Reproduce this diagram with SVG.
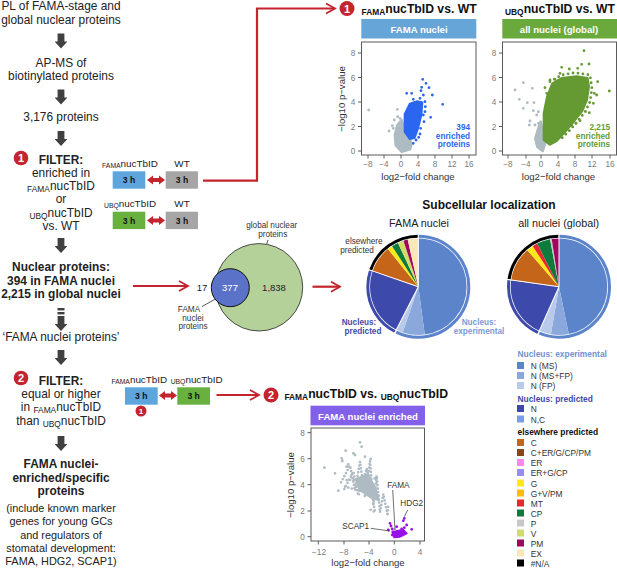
<svg xmlns="http://www.w3.org/2000/svg" xmlns:xlink="http://www.w3.org/1999/xlink" width="617" height="569" viewBox="0 0 617 569">
<style>
text{font-family:"Liberation Sans",Arial,sans-serif;fill:#222}
.m{font-size:11.9px;text-anchor:middle}
.n{font-size:10.9px;text-anchor:middle}
.b{font-weight:bold}
.s{font-size:8.4px}
.l{font-size:9.9px;text-anchor:middle}
.h{font-size:8.6px;font-weight:bold;text-anchor:middle;fill:#111}
.rl{fill:none;stroke:#c3242d;stroke-width:2.2}
.hd{fill:#fff;font-size:9.6px;font-weight:bold;text-anchor:middle}
.tt{font-size:12.2px;font-weight:bold;fill:#111}
.fr{fill:#fff;stroke:#5a5a5a;stroke-width:1}
.tk{stroke:#5a5a5a;stroke-width:1;fill:none}
.tl{font-size:8.2px;fill:#7a7a7a;text-anchor:middle}
.ax{font-size:9.6px;fill:#333;text-anchor:middle}
.bt{fill:#fff;font-weight:bold;text-anchor:middle}
.sl{fill:none;stroke-width:48.3}
.rg{fill:none;stroke-width:3}
.sp{stroke:#fff;stroke-width:1;fill:none}
.vn{font-size:8.2px;fill:#333;text-anchor:middle}
.lg{font-size:8.4px;fill:#333}
.lh{font-size:8.4px;font-weight:bold}
.dg{stroke:#aebbc3;stroke-width:8.5;stroke-linecap:round;fill:none}
.dc{stroke-width:8.5;stroke-linecap:round;fill:none}
.ct{font-size:8.2px;font-weight:bold;text-anchor:end}
</style>
<defs>
<path id="ga" d="M-3.4 0H3.4V8H6V8.5L0 15L-6 8.5V8H-3.4Z" fill="#404040"/>
<marker id="oa" markerUnits="userSpaceOnUse" markerWidth="14" markerHeight="14" refX="10" refY="6" orient="auto"><path d="M1 1L10 6L1 11" fill="none" stroke="#c3242d" stroke-width="1.8"/></marker>
<path id="da" d="M-9 0L-3 -4.5V-2H3V-4.500L9 0L3 4.500V2H-3V4.500Z" fill="#c3242d"/>
</defs>

<g id="flow-text">
<text class="m" x="61" y="10">PL of FAMA-stage and</text>
<text class="m" x="61" y="23.500">global nuclear proteins</text>
<text class="m" x="61" y="66.500">AP-MS of</text>
<text class="m" x="61" y="80">biotinylated proteins</text>
<text class="m" x="61" y="121">3,176 proteins</text>
<text class="m b" x="61" y="163.500">FILTER:</text>
<text class="m" x="61" y="177">enriched in</text>
<text class="m" x="61" y="190"><tspan class="s" dy="2">FAMA</tspan><tspan dy="-2">nucTbID</tspan></text>
<text class="m" x="61" y="203">or</text>
<text class="m" x="61" y="216.500"><tspan class="s" dy="2">UBQ</tspan><tspan dy="-2">nucTbID</tspan></text>
<text class="m" x="61" y="230">vs. WT</text>
<text class="m b" x="61" y="271">Nuclear proteins:</text>
<text class="m b" x="61" y="284.500">394 in FAMA nuclei</text>
<text class="m b" x="61" y="298">2,215 in global nuclei</text>
<text class="m" x="61" y="341">‘FAMA nuclei  proteins’</text>
<text class="m b" x="61" y="384.500">FILTER:</text>
<text class="m" x="61" y="398">equal or higher</text>
<text class="m" x="61" y="411">in <tspan class="s" dy="2">FAMA</tspan><tspan dy="-2">nucTbID</tspan></text>
<text class="m" x="61" y="424.500">than <tspan class="s" dy="2">UBQ</tspan><tspan dy="-2">nucTbID</tspan></text>
<text class="m b" x="61" y="468">FAMA nuclei-</text>
<text class="m b" x="61" y="481.500">enriched/specific</text>
<text class="m b" x="61" y="495">proteins</text>
<text class="n" x="61" y="511.500">(include known marker</text>
<text class="n" x="61" y="525">genes for young GCs</text>
<text class="n" x="61" y="538.500">and regulators of</text>
<text class="n" x="61" y="552">stomatal development:</text>
<text class="n" x="61" y="565">FAMA, HDG2, SCAP1)</text>
</g>

<g id="flow-arrows">
<use xlink:href="#ga" href="#ga" x="61" y="33.500"/>
<use xlink:href="#ga" href="#ga" x="61" y="89.500"/>
<use xlink:href="#ga" href="#ga" x="61" y="131"/>
<use xlink:href="#ga" href="#ga" x="61" y="238"/>
<rect x="57.500" y="308" width="7" height="2.400" fill="#404040"/>
<rect x="57.500" y="312" width="7" height="2.400" fill="#404040"/>
<use xlink:href="#ga" href="#ga" x="61" y="316"/>
<use xlink:href="#ga" href="#ga" x="61" y="350"/>
<use xlink:href="#ga" href="#ga" x="61" y="436"/>
</g>

<g id="connectors">
<path class="rl" d="M203 180.700H257V8.500H335" marker-end="url(#oa)"/>
<path class="rl" d="M133 286H188" marker-end="url(#oa)"/>
<path class="rl" d="M312.500 286.700H340" marker-end="url(#oa)"/>
<path class="rl" d="M216.500 395H259" marker-end="url(#oa)"/>
<use xlink:href="#da" href="#da" x="156" y="180"/>
<use xlink:href="#da" href="#da" x="156" y="220.500"/>
<use xlink:href="#da" href="#da" x="168" y="395.500"/>
</g>

<g id="badges">
<circle cx="21" cy="158" r="7.300" fill="#c3242d"/><text class="bt" x="21" y="162" style="font-size:11px">1</text>
<circle cx="21" cy="378" r="7.300" fill="#c3242d"/><text class="bt" x="21" y="382" style="font-size:11px">2</text>
<circle cx="347" cy="8.500" r="7.500" fill="#c3242d"/><text class="bt" x="347" y="12.500" style="font-size:11px">1</text>
<circle cx="271" cy="395" r="7.500" fill="#c3242d"/><text class="bt" x="271" y="399" style="font-size:11px">2</text>
<circle cx="141" cy="411" r="5.500" fill="#c3242d"/><text class="bt" x="141" y="414" style="font-size:8px">1</text>
</g>

<g id="sample-boxes">
<text class="l" x="130" y="167"><tspan style="font-size:6.800px" dy="1">FAMA</tspan><tspan dy="-1">nucTbID</tspan></text>
<text class="l" x="182" y="167">WT</text>
<rect x="112.700" y="171.300" width="32.600" height="17.400" fill="#5da5dc"/><text class="h" x="129" y="183.300">3 h</text>
<rect x="165.700" y="171.300" width="32.300" height="17.400" fill="#a6a6a6"/><text class="h" x="182" y="183.300">3 h</text>
<text class="l" x="130" y="207"><tspan style="font-size:6.800px" dy="1">UBQ</tspan><tspan dy="-1">nucTbID</tspan></text>
<text class="l" x="182" y="207">WT</text>
<rect x="112.700" y="211.700" width="32.600" height="17.400" fill="#69b13f"/><text class="h" x="129" y="223.600">3 h</text>
<rect x="165.700" y="211.700" width="32.300" height="17.400" fill="#a6a6a6"/><text class="h" x="182" y="223.600">3 h</text>
<text class="l" x="139.300" y="383"><tspan style="font-size:6.800px" dy="1">FAMA</tspan><tspan dy="-1">nucTbID</tspan></text>
<text class="l" x="196.700" y="383"><tspan style="font-size:6.800px" dy="1">UBQ</tspan><tspan dy="-1">nucTbID</tspan></text>
<rect x="125" y="387.300" width="32.700" height="17.400" fill="#5da5dc"/><text class="h" x="141.300" y="399.200">3 h</text>
<rect x="177.300" y="387.300" width="32.700" height="17.400" fill="#69b13f"/><text class="h" x="193.600" y="399.200">3 h</text>
</g>

<g id="venn">
<circle cx="259" cy="287.300" r="43.700" fill="#b5d19a" stroke="#222" stroke-width="0.8"/>
<circle cx="230.300" cy="287.700" r="19" fill="#5b72c9" stroke="#111" stroke-width="1"/>
<text class="l" x="202" y="290.500" style="font-size:9.500px">17</text>
<text class="l" x="230" y="290.500" style="font-size:9.500px;fill:#fff">377</text>
<text class="l" x="274" y="290.500" style="font-size:9.500px">1,838</text>
<text class="vn" x="271.700" y="227.700">global nuclear</text>
<text class="vn" x="272.700" y="236.700">proteins</text>
<path class="tk" d="M268 240L266.700 244"/>
<text class="vn" x="189" y="312">FAMA</text>
<text class="vn" x="193" y="320.700">nuclei</text>
<text class="vn" x="193" y="329.300">proteins</text>
<path class="tk" d="M202 306.500L215 299.300"/>
</g>

<g id="volcano-fama">
<text class="tt" x="361.500" y="12.500"><tspan style="font-size:8.400px" dy="2">FAMA</tspan><tspan dy="-2">nucTbID vs. WT</tspan></text>
<rect x="361.300" y="19" width="115" height="19.500" fill="#66a5d8"/>
<text class="hd" x="419" y="33">FAMA nuclei</text>
<rect class="fr" x="361.500" y="42" width="114.500" height="113"/>
<g transform="translate(360 60) scale(.33333)">
<path d="M125 180L135 215L155 250L150 268L125 275L107 255L105 225L112 195Z" fill="#aebbc3" stroke="#aebbc3" stroke-width="8" stroke-linejoin="round"/>
<path class="dg" d="M26 150h0M112 148h0M113 170h0M103 180h0M97 197h0M87 213h0M120 175h0M100 205h0"/>
<path d="M135 162L150 132L170 125L186 128L183 165L173 205L163 233L150 236L135 215Z" fill="#2b66f0" stroke="#2b66f0" stroke-width="8" stroke-linejoin="round"/>
<path class="dc" stroke="#2b66f0" d="M188 58h0M198 70h0M185 82h0M207 83h0M183 92h0M140 100h0M155 100h0M217 105h0M190 105h0M180 115h0M248 133h0M212 172h0M195 125h0M195 155h0M192 185h0M182 205h0M176 232h0M160 250h0M168 240h0M190 165h0M160 118h0M196 140h0M180 222h0"/>
</g>
<path class="tk" d="M358 53H361.500M358 77.500H361.500M358 102H361.500M358 126.500H361.500M358 151H361.500M368 155V158.500M384 155V158.500M401 155V158.500M418 155V158.500M435 155V158.500M452 155V158.500M469 155V158.500"/>
<text class="tl" x="353" y="56">8</text><text class="tl" x="353" y="80.500">6</text><text class="tl" x="353" y="105">4</text><text class="tl" x="353" y="129.500">2</text><text class="tl" x="353" y="154">0</text>
<text class="tl" x="368" y="167">−8</text><text class="tl" x="384" y="167">−4</text><text class="tl" x="401" y="167">0</text><text class="tl" x="418" y="167">4</text><text class="tl" x="435" y="167">8</text><text class="tl" x="452" y="167">12</text><text class="tl" x="469" y="167">16</text>
<text class="ax" x="418" y="179.500">log2−fold change</text>
<text class="ax" transform="translate(345 99) rotate(-90)">−log10 p−value</text>
<text class="ct" x="470" y="130" style="fill:#2b66f0">394</text>
<text class="ct" x="470" y="138.500" style="fill:#2b66f0">enriched</text>
<text class="ct" x="470" y="147" style="fill:#2b66f0">proteins</text>
</g>

<g id="volcano-global">
<text class="tt" x="505" y="12.500"><tspan style="font-size:8.400px" dy="2">UBQ</tspan><tspan dy="-2">nucTbID vs. WT</tspan></text>
<rect x="502.300" y="19" width="114.700" height="19.500" fill="#6aaa3c"/>
<text class="hd" x="559" y="33">all nuclei (global)</text>
<rect class="fr" x="502.500" y="42" width="114" height="113"/>
<g transform="translate(500 40) scale(.33333)">
<path d="M122 245L135 310L128 333L112 320L106 295L115 265Z" fill="#aebbc3" stroke="#aebbc3" stroke-width="8" stroke-linejoin="round"/>
<path class="dg" d="M45 150h0M70 128h0M97 145h0M58 178h0M82 188h0M102 188h0M70 205h0M100 212h0M115 215h0M110 225h0M90 243h0M88 255h0M105 255h0M115 250h0"/>
<path d="M132 300L132 220L142 170L157 132L185 115L230 110L262 115L266 140L260 180L246 213L222 243L198 272L170 302L150 313Z" fill="#659a33" stroke="#659a33" stroke-width="8" stroke-linejoin="round"/>
<path d="M150 125L185 105L225 98L270 105L276 145L270 185L256 215L232 245L208 272L180 300" fill="none" stroke="#659a33" stroke-width="8.500" stroke-dasharray="0 15" stroke-linecap="round"/>
<path class="dc" stroke="#659a33" d="M252 32h0M185 82h0M245 73h0M267 72h0M233 85h0M208 87h0M150 120h0M165 118h0M293 125h0M328 153h0M283 160h0M290 165h0M280 190h0M268 218h0M240 242h0M215 255h0M228 250h0M135 143h0M140 160h0M180 100h0"/>
</g>
<path class="tk" d="M499 53H502.500M499 77.500H502.500M499 102H502.500M499 126.500H502.500M499 151H502.500M508 155V158.500M526 155V158.500M541 155V158.500M558 155V158.500M575 155V158.500M592 155V158.500M610 155V158.500"/>
<text class="tl" x="494" y="56">8</text><text class="tl" x="494" y="80.500">6</text><text class="tl" x="494" y="105">4</text><text class="tl" x="494" y="129.500">2</text><text class="tl" x="494" y="154">0</text>
<text class="tl" x="508" y="167">−8</text><text class="tl" x="526" y="167">−4</text><text class="tl" x="541" y="167">0</text><text class="tl" x="558" y="167">4</text><text class="tl" x="575" y="167">8</text><text class="tl" x="592" y="167">12</text><text class="tl" x="610" y="167">16</text>
<text class="ax" x="558.500" y="179.500">log2−fold change</text>
<text class="ct" x="610" y="130" style="fill:#659a33">2,215</text>
<text class="ct" x="610" y="138.500" style="fill:#659a33">enriched</text>
<text class="ct" x="610" y="147" style="fill:#659a33">proteins</text>
</g>

<g id="pies">
<text x="489" y="209" text-anchor="middle" font-size="12" font-weight="bold" style="fill:#111">Subcellular localization</text>
<text class="l" x="419" y="227" style="font-size:10.800px">FAMA nuclei</text>
<text class="l" x="558.700" y="227" style="font-size:10.800px">all nuclei (global)</text>
<g id="pie-fama" transform="translate(418.300 286.700)">
<g transform="rotate(-90)">
<circle class="sl" r="24.150" pathLength="360" stroke="#5b84cb" stroke-dasharray="172 360"/>
<circle class="sl" r="24.150" pathLength="360" stroke="#8aa8dc" stroke-dasharray="27 360" stroke-dashoffset="-172"/>
<circle class="sl" r="24.150" pathLength="360" stroke="#b9c9e9" stroke-dasharray="8 360" stroke-dashoffset="-199"/>
<circle class="sl" r="24.150" pathLength="360" stroke="#3e4aab" stroke-dasharray="82 360" stroke-dashoffset="-207"/>
<circle class="sl" r="24.150" pathLength="360" stroke="#c4651a" stroke-dasharray="32 360" stroke-dashoffset="-289"/>
<circle class="sl" r="24.150" pathLength="360" stroke="#ffe81a" stroke-dasharray="6 360" stroke-dashoffset="-321"/>
<circle class="sl" r="24.150" pathLength="360" stroke="#0e7a3c" stroke-dasharray="8 360" stroke-dashoffset="-327"/>
<circle class="sl" r="24.150" pathLength="360" stroke="#d2dc6a" stroke-dasharray="7 360" stroke-dashoffset="-335"/>
<circle class="sl" r="24.150" pathLength="360" stroke="#a0085f" stroke-dasharray="5 360" stroke-dashoffset="-342"/>
<circle class="sl" r="24.150" pathLength="360" stroke="#fbe6b8" stroke-dasharray="13 360" stroke-dashoffset="-347"/>
<circle class="rg" r="50.500" pathLength="360" stroke="#5b84cb" stroke-dasharray="206 360"/>
<circle class="rg" r="50.500" pathLength="360" stroke="#3e4aab" stroke-dasharray="81 360" stroke-dashoffset="-207.500"/>
<circle class="rg" r="50.500" pathLength="360" stroke="#000" stroke-dasharray="70 360" stroke-dashoffset="-289.500"/>
</g>
<path class="sp" d="M0 0V-52"/><path class="sp" d="M0 0V-54" transform="rotate(207)"/><path class="sp" d="M0 0V-54" transform="rotate(289)"/>
</g>
<g id="pie-global" transform="translate(559 286.700)">
<g transform="rotate(-90)">
<circle class="sl" r="24.150" pathLength="360" stroke="#5b84cb" stroke-dasharray="168 360"/>
<circle class="sl" r="24.150" pathLength="360" stroke="#8aa8dc" stroke-dasharray="22 360" stroke-dashoffset="-168"/>
<circle class="sl" r="24.150" pathLength="360" stroke="#b9c9e9" stroke-dasharray="14 360" stroke-dashoffset="-190"/>
<circle class="sl" r="24.150" pathLength="360" stroke="#3e4aab" stroke-dasharray="74 360" stroke-dashoffset="-204"/>
<circle class="sl" r="24.150" pathLength="360" stroke="#c4651a" stroke-dasharray="41 360" stroke-dashoffset="-278"/>
<circle class="sl" r="24.150" pathLength="360" stroke="#ffe81a" stroke-dasharray="8 360" stroke-dashoffset="-319"/>
<circle class="sl" r="24.150" pathLength="360" stroke="#e82830" stroke-dasharray="6 360" stroke-dashoffset="-327"/>
<circle class="sl" r="24.150" pathLength="360" stroke="#0e7a3c" stroke-dasharray="16 360" stroke-dashoffset="-333"/>
<circle class="sl" r="24.150" pathLength="360" stroke="#c8c8c8" stroke-dasharray="2 360" stroke-dashoffset="-349"/>
<circle class="sl" r="24.150" pathLength="360" stroke="#a0085f" stroke-dasharray="9 360" stroke-dashoffset="-351"/>
<circle class="rg" r="50.500" pathLength="360" stroke="#5b84cb" stroke-dasharray="203 360"/>
<circle class="rg" r="50.500" pathLength="360" stroke="#3e4aab" stroke-dasharray="73 360" stroke-dashoffset="-204.500"/>
<circle class="rg" r="50.500" pathLength="360" stroke="#000" stroke-dasharray="81 360" stroke-dashoffset="-278.500"/>
</g>
<path class="sp" d="M0 0V-52"/><path class="sp" d="M0 0V-54" transform="rotate(204)"/><path class="sp" d="M0 0V-54" transform="rotate(278)"/>
</g>
<text class="vn" x="364" y="244">elsewhere</text>
<text class="vn" x="357" y="253">predicted</text>
<text class="vn b" x="359" y="325" style="fill:#3e4aab">Nucleus:</text>
<text class="vn b" x="363" y="334" style="fill:#3e4aab">predicted</text>
<text class="vn b" x="479" y="325" style="fill:#7a9bd8">Nucleus:</text>
<text class="vn b" x="479" y="334" style="fill:#7a9bd8">experimental</text>
</g>

<g id="volcano-enriched">
<text class="tt" x="448" y="398" style="text-anchor:end"><tspan style="font-size:8.400px" dy="2">FAMA</tspan><tspan dy="-2">nucTbID vs. </tspan><tspan style="font-size:8.400px" dy="2">UBQ</tspan><tspan dy="-2">nucTbID</tspan></text>
<rect x="310.500" y="405.700" width="114.500" height="19.600" fill="#8360ea"/>
<text class="hd" x="368" y="419.500">FAMA nuclei enriched</text>
<rect class="fr" x="311" y="428" width="113.500" height="113"/>
<g transform="translate(305 425) scale(.33333)">
<path d="M150 160L190 145L215 190L225 230L195 220L160 195Z" fill="#aebbc3"/>
<path d="M108 172L135 122L150 197L165 110L180 217L195 108L205 242L215 152L225 262L235 207L248 272L250 235M118 192L145 140L160 212L185 130L200 202L210 262L190 250M125 165L215 160M120 185L230 215" fill="none" stroke="#aebbc3" stroke-width="8" stroke-dasharray="0 10.500" stroke-linecap="round"/>
<path class="dg" d="M165 52h0M170 65h0M122 77h0M145 85h0M150 90h0M110 100h0M112 108h0M58 128h0M90 145h0M100 197h0M180 95h0M197 102h0M130 118h0M125 125h0"/>
<path d="M262 320L295 315L305 325L285 335L268 337Z" fill="#9a10e8" stroke="#9a10e8" stroke-width="6" stroke-linejoin="round"/>
<path class="dc" stroke="#9a10e8" d="M255 295h0M258 303h0M262 312h0M298 280h0M295 287h0M305 300h0M298 308h0M320 313h0M275 305h0M290 312h0M250 315h0M262 330h0"/>
<circle cx="270" cy="313" r="4" fill="#c9bfe0"/>
</g>
<path class="tk" d="M307.500 432.700H311M307.500 458.700H311M307.500 484.700H311M307.500 511H311M307.500 536.700H311M318.300 541V544.500M344 541V544.500M369 541V544.500M394.300 541V544.500M420 541V544.500"/>
<text class="tl" x="302.500" y="436">8</text><text class="tl" x="302.500" y="462">6</text><text class="tl" x="302.500" y="488">4</text><text class="tl" x="302.500" y="514">2</text><text class="tl" x="302.500" y="540">0</text>
<text class="tl" x="319" y="555">−12</text><text class="tl" x="344" y="555">−8</text><text class="tl" x="369" y="555">−4</text><text class="tl" x="394.300" y="555">0</text><text class="tl" x="420" y="555">4</text>
<text class="ax" x="368" y="566">log2−fold change</text>
<text class="ax" transform="translate(294 485) rotate(-90)">−log10 p−value</text>
<text class="vn" x="398.300" y="487.700">FAMA</text>
<text class="vn" x="411.700" y="506">HDG2</text>
<text class="vn" x="355.700" y="529.300">SCAP1</text>
<path d="M392.700 490L395 530M407.700 510L404.300 516.700M370.700 528.300L390 531" fill="none" stroke="#333" stroke-width="0.7"/>
</g>

<g id="legend">
<text class="lh" x="517.500" y="356.500" style="fill:#6f92d2">Nucleus: experimental</text>
<rect x="517" y="362" width="7" height="7" fill="#5b84cb"/><text class="lg" x="530.700" y="369">N (MS)</text>
<rect x="517" y="372" width="7" height="7" fill="#8aa8dc"/><text class="lg" x="530.700" y="379">N (MS+FP)</text>
<rect x="517" y="382" width="7" height="7" fill="#b9c9e9"/><text class="lg" x="530.700" y="389">N (FP)</text>
<text class="lh" x="517.500" y="401.500" style="fill:#3e4aab">Nucleus: predicted</text>
<rect x="517" y="405" width="7" height="7" fill="#3e4aab"/><text class="lg" x="530.700" y="412">N</text>
<rect x="517" y="415.500" width="7" height="7" fill="#7b9bef"/><text class="lg" x="530.700" y="422.500">N,C</text>
<text class="lh" x="517.500" y="435" style="fill:#111">elsewhere predicted</text>
<rect x="517" y="439" width="7" height="7" fill="#c4651a"/><text class="lg" x="530.700" y="446">C</text>
<rect x="517" y="449" width="7" height="7" fill="#8b4513"/><text class="lg" x="530.700" y="456">C+ER/G/CP/PM</text>
<rect x="517" y="459" width="7" height="7" fill="#ff88ee"/><text class="lg" x="530.700" y="466">ER</text>
<rect x="517" y="469" width="7" height="7" fill="#9a8cf5"/><text class="lg" x="530.700" y="476">ER+G/CP</text>
<rect x="517" y="479.500" width="7" height="7" fill="#ffe81a"/><text class="lg" x="530.700" y="486.500">G</text>
<rect x="517" y="489.500" width="7" height="7" fill="#ffbb10"/><text class="lg" x="530.700" y="496.500">G+V/PM</text>
<rect x="517" y="499.500" width="7" height="7" fill="#e82830"/><text class="lg" x="530.700" y="506.500">MT</text>
<rect x="517" y="509.500" width="7" height="7" fill="#0e7a3c"/><text class="lg" x="530.700" y="516.500">CP</text>
<rect x="517" y="519.500" width="7" height="7" fill="#c8c8c8"/><text class="lg" x="530.700" y="526.500">P</text>
<rect x="517" y="529.500" width="7" height="7" fill="#d2dc6a"/><text class="lg" x="530.700" y="536.500">V</text>
<rect x="517" y="539.500" width="7" height="7" fill="#a0085f"/><text class="lg" x="530.700" y="546.500">PM</text>
<rect x="517" y="549.500" width="7" height="7" fill="#fbe6b8"/><text class="lg" x="530.700" y="556.500">EX</text>
<rect x="517" y="559.500" width="7" height="7" fill="#000"/><text class="lg" x="530.700" y="566.500">#N/A</text>
</g>
</svg>
